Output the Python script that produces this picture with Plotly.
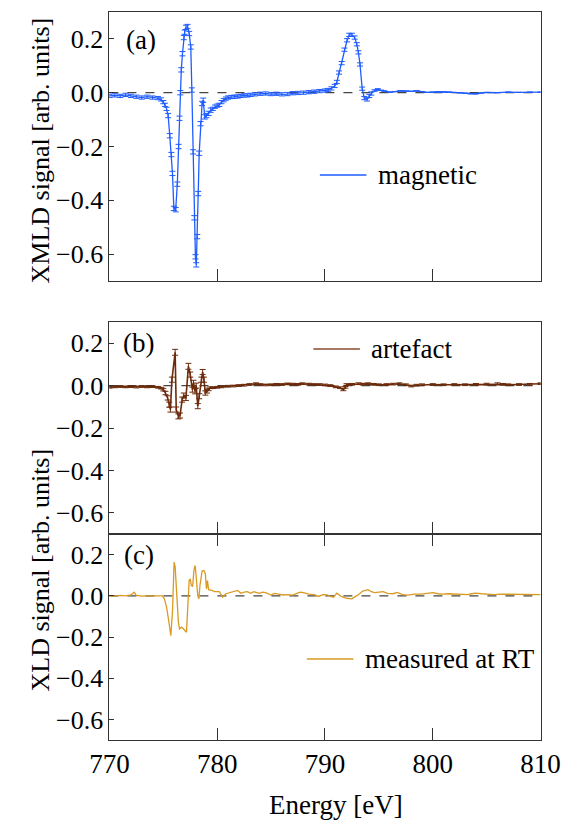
import plotly.graph_objects as go

# ---------------- data ----------------
mag_E = [770.0, 770.5, 771.0, 771.5, 772.0, 772.5, 773.0, 773.5, 774.0, 774.5,
         774.8, 775.0, 775.15, 775.3, 775.45, 775.6, 775.75, 775.85, 775.98, 776.15,
         776.3, 776.42, 776.5, 776.58, 776.67, 776.78, 776.9, 776.98, 777.1, 777.25,
         777.4, 777.55, 777.65, 777.76, 777.88, 777.98, 778.06, 778.15, 778.24, 778.33,
         778.45, 778.6, 778.7, 778.85, 779.0, 779.2, 779.4, 779.6, 779.8, 780.0,
         780.2, 780.4, 780.6, 780.8, 781.0, 781.3, 781.6, 781.9, 782.2, 782.5,
         782.8, 783.1, 783.5, 784.0, 784.5, 785.0, 785.5, 786.0, 786.5, 787.0,
         787.5, 788.0, 788.5, 789.0, 789.5, 790.0, 790.3, 790.6, 790.9, 791.1,
         791.3, 791.55, 791.8, 792.05, 792.25, 792.5, 792.75, 792.95, 793.1, 793.25,
         793.45, 793.65, 793.9, 794.1, 794.3, 794.6, 794.9, 795.2, 795.5, 796.0,
         796.5, 797.0, 797.5, 798.0, 798.5, 799.0, 799.5, 800.0, 800.5, 801.0,
         801.5, 802.0, 802.5, 803.0, 803.5, 804.0, 804.5, 805.0, 806.0, 807.0,
         808.0, 809.0, 810.0]
mag_val = [-0.012, -0.010, -0.012, -0.008, -0.012, -0.015, -0.018, -0.015, -0.018, -0.020,
           -0.025, -0.035, -0.045, -0.060, -0.085, -0.16, -0.23, -0.30, -0.43, -0.435,
           -0.34, -0.20, -0.095, 0.0, 0.085, 0.145, 0.205, 0.225, 0.243, 0.246,
           0.22, 0.17, 0.01, -0.22, -0.465, -0.61, -0.64, -0.535, -0.375, -0.225,
           -0.115, -0.04, -0.028, -0.09, -0.085, -0.077, -0.065, -0.060, -0.052, -0.048,
           -0.045, -0.035, -0.028, -0.022, -0.018, -0.016, -0.015, -0.014, -0.012, -0.010,
           -0.010, -0.008, -0.006, -0.004, -0.003, -0.005, -0.004, -0.006, -0.005, -0.002,
           -0.001, 0.0, 0.002, 0.004, 0.006, 0.008, 0.010, 0.016, 0.025, 0.040,
           0.075, 0.11, 0.16, 0.195, 0.215, 0.215, 0.205, 0.18, 0.15, 0.105,
           0.015, -0.020, -0.025, -0.012, -0.003, 0.008, 0.012, 0.009, 0.006, 0.002,
           0.004, 0.007, 0.006, 0.005, 0.007, 0.004, 0.001, 0.002, 0.003, 0.003,
           0.002, 0.001, 0.0, -0.002, -0.004, -0.004, -0.001, 0.001, 0.0, 0.002,
           0.001, 0.002, 0.002]
mag_err = [0.006, 0.006, 0.006, 0.006, 0.006, 0.006, 0.006, 0.006, 0.006, 0.006,
           0.006, 0.006, 0.006, 0.006, 0.008, 0.008, 0.008, 0.008, 0.008, 0.008,
           0.008, 0.008, 0.008, 0.008, 0.008, 0.008, 0.008, 0.008, 0.008, 0.008,
           0.008, 0.008, 0.008, 0.008, 0.008, 0.008, 0.008, 0.008, 0.008, 0.008,
           0.008, 0.008, 0.008, 0.008, 0.008, 0.008, 0.008, 0.006, 0.006, 0.006,
           0.006, 0.006, 0.006, 0.006, 0.006, 0.006, 0.006, 0.006, 0.006, 0.006,
           0.006, 0.006, 0.006, 0.006, 0.006, 0.006, 0.006, 0.006, 0.006, 0.006,
           0.006, 0.006, 0.006, 0.006, 0.006, 0.006, 0.006, 0.006, 0.006, 0.006,
           0.006, 0.006, 0.006, 0.006, 0.006, 0.006, 0.006, 0.006, 0.006, 0.006,
           0.006, 0.006, 0.006, 0.006, 0.006, 0.003, 0.003, 0.0, 0.0, 0.0,
           0.0, 0.0, 0.0, 0.0, 0.0, 0.0, 0.0, 0.0, 0.0, 0.0,
           0.0, 0.0, 0.0, 0.0, 0.0, 0.0, 0.0, 0.0, 0.0, 0.0,
           0.0, 0.0, 0.0]

art_E = [770.0, 770.5, 771.0, 771.5, 772.0, 772.5, 773.0, 773.5, 774.0, 774.5,
         774.8, 775.0, 775.2, 775.4, 775.55, 775.66, 775.8, 776.1, 776.2, 776.4,
         776.55, 776.75, 776.9, 777.1, 777.33, 777.5, 777.7, 777.8, 777.95, 778.05,
         778.2, 778.33, 778.53, 778.65, 778.77, 778.9, 779.05, 779.2, 779.35, 779.6,
         780.0, 780.4, 781.0, 781.5, 782.0, 782.5, 783.0, 783.6, 784.0, 784.5,
         785.0, 785.5, 786.0, 786.5, 787.0, 787.5, 787.9, 788.5, 789.0, 789.5,
         790.0, 790.5, 791.0, 791.4, 791.7, 791.9, 792.0, 792.5, 793.1, 793.5,
         794.0, 794.5, 795.0, 795.7, 796.3, 796.9, 797.5, 798.0, 798.5, 799.0,
         800.0, 801.0, 802.0, 803.0, 804.0, 805.0, 806.0, 806.5, 807.0, 808.0,
         809.0, 810.0]
art_val = [-0.008, -0.006, -0.004, -0.006, -0.005, -0.007, -0.004, -0.006, -0.005, -0.008,
           -0.012, -0.019, -0.035, -0.058, -0.09, -0.113, 0.028, 0.157, -0.113, -0.145,
           -0.141, -0.066, -0.047, -0.058, 0.091, 0.052, -0.019, 0.013, -0.027, 0.0,
           -0.097, -0.05, 0.028, 0.064, 0.028, -0.035, -0.027, -0.018, -0.010, -0.010,
           -0.008, -0.006, -0.003, -0.002, 0.0, 0.002, 0.005, 0.009, 0.005, 0.003,
           0.004, 0.006, 0.005, 0.008, 0.007, 0.006, 0.009, 0.007, 0.005, 0.005,
           0.003, 0.0, -0.006, -0.010, -0.019, -0.008, 0.005, 0.006, 0.009, 0.007,
           0.009, 0.006, 0.004, 0.005, 0.007, 0.009, 0.004, -0.002, 0.002, 0.004,
           0.005, 0.004, 0.005, 0.004, 0.006, 0.007, 0.009, 0.006, 0.004, 0.005,
           0.006, 0.009]
art_err = [0.004, 0.004, 0.004, 0.004, 0.004, 0.004, 0.004, 0.004, 0.004, 0.004,
           0.004, 0.006, 0.008, 0.010, 0.012, 0.012, 0.012, 0.014, 0.012, 0.012,
           0.012, 0.012, 0.012, 0.012, 0.014, 0.012, 0.012, 0.012, 0.012, 0.012,
           0.012, 0.012, 0.012, 0.012, 0.012, 0.010, 0.008, 0.006, 0.004, 0.004,
           0.004, 0.004, 0.004, 0.004, 0.004, 0.004, 0.004, 0.004, 0.004, 0.004,
           0.004, 0.004, 0.004, 0.004, 0.004, 0.004, 0.004, 0.004, 0.004, 0.004,
           0.004, 0.004, 0.004, 0.004, 0.005, 0.004, 0.004, 0.004, 0.004, 0.004,
           0.004, 0.004, 0.004, 0.004, 0.004, 0.004, 0.004, 0.004, 0.004, 0.004,
           0.004, 0.004, 0.004, 0.004, 0.004, 0.004, 0.004, 0.004, 0.004, 0.004,
           0.004, 0.004]

rt_E = [770.0, 770.5, 771.0, 771.5, 772.0, 772.3, 772.5, 773.0, 773.5, 774.0,
        774.5, 774.9, 775.1, 775.3, 775.5, 775.7, 775.86, 775.94, 776.0, 776.1,
        776.24, 776.4, 776.5, 776.7, 776.85, 777.03, 777.15, 777.27, 777.4, 777.5,
        777.6, 777.72, 777.84, 777.96, 778.07, 778.2, 778.3, 778.4, 778.6, 778.77,
        778.9, 779.0, 779.1, 779.2, 779.5, 779.77, 780.2, 780.5, 780.8, 781.35,
        781.9, 782.2, 782.5, 782.8, 783.1, 783.4, 783.9, 784.2, 784.5, 785.0,
        785.3, 785.7, 786.1, 786.5, 787.0, 787.4, 787.7, 788.0, 788.5, 789.0,
        789.4, 789.8, 790.2, 790.5, 790.8, 791.1, 791.5, 792.0, 792.5, 792.8,
        793.1, 793.5, 794.0, 794.3, 794.6, 795.0, 795.4, 795.8, 796.3, 796.7,
        797.2, 797.7, 798.3, 798.9, 799.5, 800.0, 800.5, 800.9, 801.5, 802.0,
        802.6, 803.2, 803.6, 804.0, 804.5, 805.0, 805.7, 806.3, 807.0, 807.5,
        808.0, 808.7, 809.3, 810.0]
rt_val = [0.0, -0.002, 0.002, 0.0, 0.004, 0.017, 0.002, -0.002, 0.0, -0.001,
          0.0, 0.0, -0.015, -0.055, -0.12, -0.193, -0.07, 0.074, 0.163, 0.14,
          -0.007, -0.128, -0.16, -0.152, -0.16, -0.168, -0.177, -0.055, 0.074, 0.082,
          0.05, 0.045, 0.123, 0.147, 0.074, 0.0, -0.015, 0.05, 0.12, 0.123,
          0.107, 0.034, 0.074, 0.03, 0.026, 0.02, 0.02, -0.007, 0.01, 0.018,
          0.026, 0.012, 0.018, 0.02, 0.012, 0.02, 0.012, 0.018, 0.015, 0.004,
          0.012, 0.008, 0.004, 0.006, 0.003, 0.012, 0.018, 0.015, 0.008, 0.006,
          -0.003, 0.006, 0.005, -0.003, -0.007, 0.013, -0.003, -0.012, -0.015, -0.004,
          0.005, 0.023, 0.030, 0.020, 0.015, 0.018, 0.020, 0.012, 0.010, 0.016,
          0.006, 0.003, 0.008, 0.008, 0.012, 0.015, 0.010, 0.008, 0.010, 0.008,
          0.007, 0.006, 0.010, 0.013, 0.010, 0.008, 0.006, 0.008, 0.008, 0.009,
          0.007, 0.008, 0.008, 0.006]

x_ticks = [770, 780, 790, 800, 810]
y_ticks = [0.2, 0.0, -0.2, -0.4, -0.6]
y_tick_text = ["0.2", "0.0", "\u22120.2", "\u22120.4", "\u22120.6"]

# ---------------- styling ----------------
W, H = 582, 827
SERIF = "Liberation Serif"
BLUE = "#1f5cff"
BROWN = "#6b2a0a"
GOLD = "#d99a22"
AX = "#333333"


def px(xp):
    return xp / W


def py(yp):
    return 1 - yp / H


def tfont(size):
    return dict(family=SERIF, size=size)


fig = go.Figure()

fig.add_trace(go.Scatter(
    x=mag_E, y=mag_val, mode="lines", xaxis="x", yaxis="y",
    line=dict(color=BLUE, width=1.3),
    error_y=dict(type="data", array=mag_err, color=BLUE, thickness=1, width=3),
    showlegend=False))
fig.add_trace(go.Scatter(
    x=art_E, y=art_val, mode="lines", xaxis="x2", yaxis="y2",
    line=dict(color=BROWN, width=1.6),
    error_y=dict(type="data", array=art_err, color=BROWN, thickness=1, width=3),
    showlegend=False))
fig.add_trace(go.Scatter(
    x=rt_E, y=rt_val, mode="lines", xaxis="x3", yaxis="y3",
    line=dict(color=GOLD, width=1.3), showlegend=False))

domx = [px(96), px(559)]
doms = {
    "": [py(281), py(12)],
    "2": [py(534), py(322)],
    "3": [py(740), py(534)],
}

fig.update_layout(
    width=W, height=H,
    margin=dict(l=0, r=0, t=0, b=0),
    paper_bgcolor="white", plot_bgcolor="white",
    font=dict(color="black"),
)

for k, dom in doms.items():
    last = (k == "3")
    fig.update_layout({
        "xaxis" + k: dict(
            domain=domx, range=[770, 810], anchor="y" + k,
            tickmode="array", tickvals=x_ticks, ticktext=[str(v) for v in x_ticks],
            showticklabels=last, ticks="inside", ticklen=12, tickcolor=AX,
            showline=True, linecolor=AX, linewidth=1,
            mirror="ticks" if last else True,
            showgrid=False, zeroline=False,
            tickfont=tfont(27),
        ),
        "yaxis" + k: dict(
            domain=dom, range=[-0.7, 0.3], anchor="x" + k,
            tickmode="array", tickvals=y_ticks, ticktext=y_tick_text,
            ticks="inside", ticklen=5, tickcolor=AX,
            showline=True, linecolor=AX, linewidth=1, mirror=True,
            showgrid=False, zeroline=False,
            tickfont=tfont(26),
        ),
    })

# dashed zero lines
for k in ["", "2", "3"]:
    fig.add_shape(type="line", xref=("x" + k) + " domain", yref="y" + k,
                  x0=0, x1=1, y0=0, y1=0,
                  line=dict(color="#444444", width=1.2, dash="dash"), layer="below")

# legends (custom) and panel labels
legend_items = [
    ("magnetic", BLUE, 322, 372, 175),
    ("artefact", "#8a4a30", 315, 365, 349),
    ("measured at RT", GOLD, 308, 358, 659),
]
for label, col, x0, x1, yy in legend_items:
    fig.add_shape(type="line", xref="paper", yref="paper",
                  x0=px(x0), x1=px(x1), y0=py(yy), y1=py(yy),
                  line=dict(color=col, width=1.5))
    fig.add_annotation(text=label, xref="paper", yref="paper",
                       x=px(x1 + 10), y=py(yy), xanchor="left", yanchor="middle",
                       showarrow=False, font=tfont(27))

for label, xx, yy in [("(a)", 112, 40), ("(b)", 108, 343), ("(c)", 109, 555)]:
    fig.add_annotation(text=label, xref="paper", yref="paper",
                       x=px(xx), y=py(yy), xanchor="left", yanchor="middle",
                       showarrow=False, font=tfont(27))

# axis titles
fig.add_annotation(text="XMLD signal [arb. units]", xref="paper", yref="paper",
                   x=px(22), y=py(150), textangle=-90, showarrow=False,
                   xanchor="center", yanchor="middle", font=tfont(26))
fig.add_annotation(text="XLD signal [arb. units]", xref="paper", yref="paper",
                   x=px(22), y=py(570), textangle=-90, showarrow=False,
                   xanchor="center", yanchor="middle", font=tfont(26))
fig.add_annotation(text="Energy [eV]", xref="paper", yref="paper",
                   x=px(339), y=py(805), showarrow=False,
                   xanchor="center", yanchor="middle", font=tfont(27))

fig.write_html("out.html")
